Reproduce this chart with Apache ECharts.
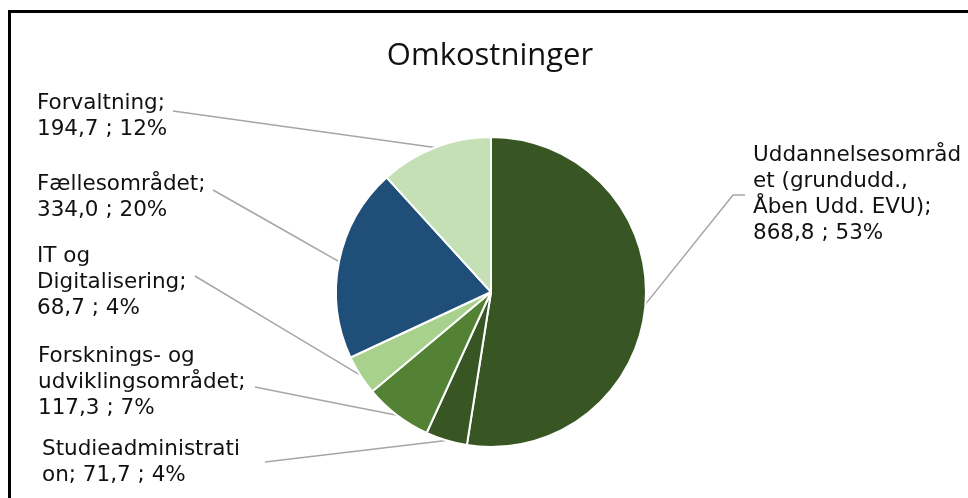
<!DOCTYPE html>
<html>
<head>
<meta charset="utf-8">
<script src="https://cdn.jsdelivr.net/npm/echarts@6/dist/echarts.min.js"></script>
<style>
  html, body { margin: 0; padding: 0; background: #fff; }
  #chart { width: 968px; height: 498px; }
</style>
</head>
<body>
<div id="chart"></div>
<script>
// Cost breakdown (mio. kr.), clockwise from 12 o'clock
const categories = [
  'Uddannelsesområdet (grundudd., Åben Udd. EVU)',
  'Studieadministration',
  'Forsknings- og udviklingsområdet',
  'IT og Digitalisering',
  'Fællesområdet',
  'Forvaltning'
];
const values = [868.8, 71.7, 117.3, 68.7, 334.0, 194.7];

// Category names as they wrap inside the data labels
const labelNames = [
  'Uddannelsesområd\net (grundudd.,\nÅben Udd. EVU);\n',
  'Studieadministrati\non; ',
  'Forsknings- og\nudviklingsområdet;\n',
  'IT og\nDigitalisering;\n',
  'Fællesområdet;\n',
  'Forvaltning;\n'
];

const colors = ['#375623', '#375623', '#548235', '#a9d18e', '#1f4e79', '#c5e0b4'];

// Label placement: left edge, vertical middle, and leader-line points near the text
const labelSpots = [
  { x: 753, y: 194, line: [[733, 195], [745, 195]] },
  { x: 42,  y: 462, line: [[265, 462]] },
  { x: 38,  y: 382, line: [[255, 387]] },
  { x: 37,  y: 282, line: [[195, 276]] },
  { x: 37,  y: 197, line: [[213, 190]] },
  { x: 37,  y: 116, line: [[173, 111]] }
];

const center = [491, 292];
const radius = 155;

function fmtNum(v) {
  return v.toFixed(1).replace('.', ',');
}

// Fallback anchor on the slice edge at its mid-angle
function edgeAnchor(idx) {
  const total = values.reduce((a, b) => a + b, 0);
  let before = 0;
  for (let i = 0; i < idx; i++) before += values[i];
  const mid = (before + values[idx] / 2) / total * Math.PI * 2;
  return [center[0] + radius * Math.sin(mid), center[1] - radius * Math.cos(mid)];
}

const chart = echarts.init(document.getElementById('chart'), null, { renderer: 'canvas' });

chart.setOption({
  animation: false,
  backgroundColor: '#fff',
  title: {
    text: 'Omkostninger',
    left: 485,
    top: 36,
    textAlign: 'center',
    textStyle: {
      fontFamily: 'Open Sans',
      fontSize: 31,
      fontWeight: 'normal',
      color: '#111'
    }
  },
  graphic: [{
    type: 'rect',
    silent: true,
    shape: { x: 9.5, y: 11.5, width: 1000, height: 600 },
    style: { fill: 'none', stroke: '#000', lineWidth: 3 }
  }],
  series: [{
    type: 'pie',
    center: center,
    radius: radius,
    startAngle: 90,
    clockwise: true,
    percentPrecision: 0,
    avoidLabelOverlap: false,
    emphasis: { disabled: true },
    itemStyle: { borderColor: '#fff', borderWidth: 2 },
    label: {
      show: true,
      position: 'outside',
      fontFamily: 'DejaVu Sans',
      fontSize: 21.5,
      lineHeight: 26,
      color: '#111',
      formatter: function (p) {
        return labelNames[p.dataIndex] + fmtNum(p.value) + ' ; ' + Math.round(p.percent) + '%';
      }
    },
    labelLine: {
      show: true,
      smooth: false,
      lineStyle: { color: '#a6a6a6', width: 1.5 }
    },
    labelLayout: function (params) {
      const s = labelSpots[params.dataIndex];
      const a = (params.labelLinePoints && params.labelLinePoints[0]) || edgeAnchor(params.dataIndex);
      let pts;
      if (s.line.length === 2) {
        pts = [a, s.line[0], s.line[1]];
      } else {
        const e = s.line[0];
        pts = [a, [(a[0] + e[0]) / 2, (a[1] + e[1]) / 2], e];
      }
      return {
        x: s.x,
        y: s.y,
        align: 'left',
        verticalAlign: 'middle',
        labelLinePoints: pts
      };
    },
    data: categories.map((name, i) => ({
      name: name,
      value: values[i],
      itemStyle: { color: colors[i] }
    }))
  }]
});
</script>
</body>
</html>
